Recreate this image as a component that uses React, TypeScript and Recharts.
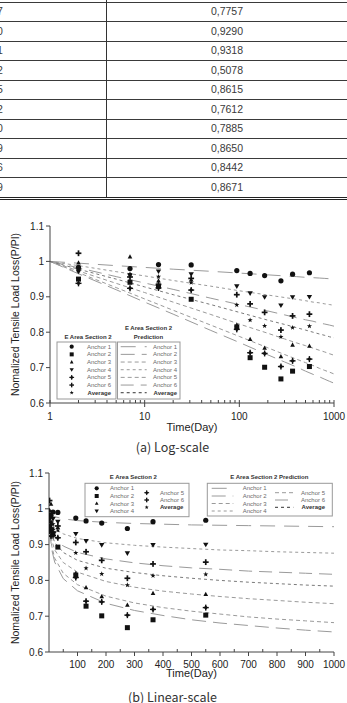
import React from 'react';
import { ComposedChart, Line, Scatter, XAxis, YAxis, Label } from 'recharts';

// ---------- table (upper part of the page) ----------
const tableLeftTail = ['7', '0', '1', '2', '5', '2', '0', '9', '6', '9'];
const tableValues = ['0,7757', '0,9290', '0,9318', '0,5078', '0,8615', '0,7612', '0,7885', '0,8650', '0,8442', '0,8671'];

// ---------- measured data ----------
const measuredDays = [2, 7, 14, 31, 94, 130, 185, 275, 365, 550];
const anchor1 = [0.983, 0.980, 0.991, 0.990, 0.974, 0.966, 0.960, 0.945, 0.964, 0.968];
const anchor2 = [0.950, 0.941, 0.930, 0.893, 0.815, 0.728, 0.701, 0.668, 0.690, 0.703];
const anchor3 = [0.996, 1.013, 0.945, 0.948, 0.820, 0.780, 0.755, 0.731, 0.764, 0.761];
const anchor4 = [0.971, 0.960, 0.972, 0.964, 0.930, 0.910, 0.899, 0.876, 0.899, 0.900];
const anchor5 = [0.938, 0.924, 0.925, 0.919, 0.808, 0.742, 0.740, 0.703, 0.719, 0.724];
const anchor6 = [1.023, 0.956, 0.935, 0.952, 0.906, 0.880, 0.856, 0.806, 0.846, 0.851];
const average = [0.975, 0.965, 0.957, 0.940, 0.877, 0.834, 0.818, 0.787, 0.813, 0.817];

const seriesNames = ['Anchor 1', 'Anchor 2', 'Anchor 3', 'Anchor 4', 'Anchor 5', 'Anchor 6', 'Average'];

// ---------- prediction curves ----------
const predictionDays = [1, 2, 5, 10, 20, 50, 100, 200, 300, 400, 500, 600, 700, 800, 900, 1000];
const predAnchor1 = [1.000, 0.995, 0.988, 0.983, 0.978, 0.972, 0.967, 0.962, 0.959, 0.957, 0.955, 0.954, 0.953, 0.952, 0.951, 0.950];
const predAnchor2 = [1.000, 0.965, 0.920, 0.885, 0.851, 0.805, 0.771, 0.736, 0.716, 0.702, 0.690, 0.681, 0.674, 0.667, 0.661, 0.656];
const predAnchor3 = [1.000, 0.973, 0.938, 0.912, 0.885, 0.850, 0.823, 0.797, 0.781, 0.770, 0.762, 0.755, 0.749, 0.744, 0.739, 0.735];
const predAnchor4 = [1.000, 0.988, 0.971, 0.959, 0.946, 0.930, 0.917, 0.905, 0.898, 0.893, 0.889, 0.885, 0.883, 0.880, 0.878, 0.876];
const predAnchor5 = [1.000, 0.968, 0.926, 0.894, 0.862, 0.820, 0.788, 0.756, 0.737, 0.724, 0.714, 0.706, 0.698, 0.692, 0.687, 0.682];
const predAnchor6 = [1.000, 0.982, 0.957, 0.939, 0.921, 0.896, 0.878, 0.860, 0.849, 0.841, 0.835, 0.831, 0.826, 0.823, 0.820, 0.817];
const predAverage = [1.000, 0.978, 0.950, 0.928, 0.906, 0.878, 0.856, 0.834, 0.822, 0.813, 0.806, 0.800, 0.795, 0.791, 0.787, 0.784];

// ---------- axes ----------
const yTicks = [0.6, 0.7, 0.8, 0.9, 1.0, 1.1];
const logTicks = [1, 2, 3, 4, 5, 6, 7, 8, 9, 10, 20, 30, 40, 50, 60, 70, 80, 90, 100, 200, 300, 400, 500, 600, 700, 800, 900, 1000];
const logMajor = [1, 10, 100, 1000];
const linTicks = [50, 100, 150, 200, 250, 300, 350, 400, 450, 500, 550, 600, 650, 700, 750, 800, 850, 900, 950, 1000];

const FONT = '"Liberation Sans", Arial, sans-serif';
const INK = '#222';
const AXIS = '#444';

type Kind = 'circle' | 'square' | 'tri' | 'invtri' | 'dplus' | 'plus' | 'star';
const markerKinds: Kind[] = ['circle', 'square', 'tri', 'invtri', 'dplus', 'plus', 'star'];
const measuredSeries = [anchor1, anchor2, anchor3, anchor4, anchor5, anchor6, average];
const predKeys = ['p1', 'p2', 'p3', 'p4', 'p5', 'p6', 'pa'];
const predSeries = [predAnchor1, predAnchor2, predAnchor3, predAnchor4, predAnchor5, predAnchor6, predAverage];
const predStyle = [
  { stroke: '#9a9a9a', dash: '15 9' },
  { stroke: '#9a9a9a', dash: '14 7' },
  { stroke: '#9a9a9a', dash: '4 3' },
  { stroke: '#9a9a9a', dash: '3 3' },
  { stroke: '#9a9a9a', dash: '4 3' },
  { stroke: '#9a9a9a', dash: '13 7' },
  { stroke: '#7a7a7a', dash: '3 3' },
];

const predRows = predictionDays.map((t, i) => {
  const r: any = { t };
  predKeys.forEach((k, j) => (r[k] = predSeries[j][i]));
  return r;
});
const measuredRows = measuredSeries.map((s) => s.map((v, i) => ({ t: measuredDays[i], v })));

function starPoints(cx: number, cy: number, R: number, r: number) {
  const pts: string[] = [];
  for (let k = 0; k < 10; k++) {
    const a = ((-90 + k * 36) * Math.PI) / 180;
    const rad = k % 2 === 0 ? R : r;
    pts.push(`${cx + rad * Math.cos(a)},${cy + rad * Math.sin(a)}`);
  }
  return pts.join(' ');
}

function Marker({ kind, cx, cy, s = 1 }: { kind: Kind; cx: number; cy: number; s?: number }) {
  const f = '#111';
  switch (kind) {
    case 'circle':
      return <circle cx={cx} cy={cy} r={2.6 * s} fill={f} />;
    case 'square':
      return <rect x={cx - 2.5 * s} y={cy - 2.5 * s} width={5 * s} height={5 * s} fill={f} />;
    case 'tri':
      return <polygon points={`${cx},${cy - 2.6 * s} ${cx - 2.3 * s},${cy + 1.7 * s} ${cx + 2.3 * s},${cy + 1.7 * s}`} fill={f} />;
    case 'invtri':
      return <polygon points={`${cx - 2.7 * s},${cy - 1.9 * s} ${cx + 2.7 * s},${cy - 1.9 * s} ${cx},${cy + 2.7 * s}`} fill={f} />;
    case 'dplus':
      return (
        <g fill={f}>
          <polygon points={`${cx},${cy - 2.2 * s} ${cx + 2.2 * s},${cy} ${cx},${cy + 2.2 * s} ${cx - 2.2 * s},${cy}`} />
          <rect x={cx - 3 * s} y={cy - 0.7 * s} width={6 * s} height={1.4 * s} />
          <rect x={cx - 0.7 * s} y={cy - 3 * s} width={1.4 * s} height={6 * s} />
        </g>
      );
    case 'plus':
      return (
        <g fill={f}>
          <rect x={cx - 2.9 * s} y={cy - 0.85 * s} width={5.8 * s} height={1.7 * s} />
          <rect x={cx - 0.85 * s} y={cy - 2.9 * s} width={1.7 * s} height={5.8 * s} />
        </g>
      );
    default:
      return <polygon points={starPoints(cx, cy, 2.7 * s, 1.1 * s)} fill={f} />;
  }
}

const fmtY = (v: number) => (Math.abs(v - 1) < 1e-9 ? '1' : v.toFixed(1));

function LogTick(props: any) {
  const { x, y, payload } = props;
  const v = payload.value;
  const axisY = y - 6;
  const major = logMajor.includes(v);
  return (
    <g>
      {major ? (
        <line x1={x} x2={x} y1={axisY - 3} y2={axisY + 4} stroke={AXIS} />
      ) : (
        <line x1={x} x2={x} y1={axisY - 3} y2={axisY} stroke={AXIS} />
      )}
      {major && (
        <text x={x} y={axisY + 17} textAnchor="middle" fontSize={10} fill={INK} fontFamily={FONT}>
          {v}
        </text>
      )}
    </g>
  );
}

function LinTick(props: any) {
  const { x, y, payload } = props;
  const v = payload.value;
  const axisY = y - 6;
  const major = v % 100 === 0;
  return (
    <g>
      {major ? (
        <line x1={x} x2={x} y1={axisY} y2={axisY + 4} stroke={AXIS} />
      ) : (
        <line x1={x} x2={x} y1={axisY - 3} y2={axisY} stroke={AXIS} />
      )}
      {major && (
        <text x={x} y={axisY + 16} textAnchor="middle" fontSize={10} fill={INK} fontFamily={FONT}>
          {v}
        </text>
      )}
    </g>
  );
}

const makeYTitle = () => (props: any) => {
  const vb = props.viewBox || { x: 0, y: 0, width: 0, height: 0 };
  const cx = 15;
  const cy = vb.y + vb.height / 2;
  return (
    <text x={cx} y={cy} transform={`rotate(-90 ${cx} ${cy})`} textAnchor="middle" dominantBaseline="central" fontSize={10.5} fill={INK} fontFamily={FONT}>
      Nomalized Tensile Load Loss(P/PI)
    </text>
  );
};

const makeXTitle = (dy: number) => (props: any) => {
  const vb = props.viewBox || { x: 0, y: 0, width: 0, height: 0 };
  return (
    <text x={vb.x + vb.width / 2} y={vb.y + dy} textAnchor="middle" dominantBaseline="central" fontSize={11} fill={INK} fontFamily={FONT}>
      Time(Day)
    </text>
  );
};

function Series() {
  return null;
}

function renderSeries() {
  const out: any[] = [];
  predKeys.forEach((k, j) => {
    out.push(
      <Line
        key={k}
        dataKey={k}
        type="linear"
        stroke={predStyle[j].stroke}
        strokeDasharray={predStyle[j].dash}
        strokeWidth={1}
        dot={false}
        activeDot={false}
        isAnimationActive={false}
      />
    );
  });
  measuredRows.forEach((rows, j) => {
    out.push(
      <Scatter
        key={'m' + j}
        name={seriesNames[j]}
        data={rows}
        dataKey="v"
        isAnimationActive={false}
        shape={(p: any) => <Marker kind={markerKinds[j]} cx={p.cx} cy={p.cy} />}
      />
    );
  });
  return out;
}

function Table() {
  const lineYs = [1.5, 21, 40.5, 60, 79.5, 99, 118.5, 138, 157.5, 177];
  return (
    <div style={{ position: 'absolute', left: 0, top: 0, width: 347, height: 202 }}>
      {lineYs.map((y, i) => (
        <div key={i} style={{ position: 'absolute', left: 0, top: y, width: 347, height: 1, background: '#3a3a3a' }} />
      ))}
      <div style={{ position: 'absolute', left: 0, top: 196.5, width: 347, height: 1, background: '#222' }} />
      <div style={{ position: 'absolute', left: 0, top: 198.5, width: 347, height: 1.2, background: '#222' }} />
      <div style={{ position: 'absolute', left: 105.5, top: 0, width: 1, height: 197, background: '#333' }} />
      {tableValues.map((v, i) => (
        <div
          key={'v' + i}
          style={{
            position: 'absolute',
            left: 107,
            width: 240,
            top: 2 + 19.5 * i,
            height: 19.5,
            lineHeight: '19.5px',
            textAlign: 'center',
            fontFamily: FONT,
            fontSize: 10.5,
            color: '#3a3a3a',
          }}
        >
          {v}
        </div>
      ))}
      {tableLeftTail.map((d, i) => (
        <div
          key={'l' + i}
          style={{
            position: 'absolute',
            left: 0,
            width: 8,
            overflow: 'hidden',
            top: 2 + 19.5 * i,
            height: 19.5,
            lineHeight: '19.5px',
            fontFamily: FONT,
            fontSize: 10.5,
            color: '#3a3a3a',
          }}
        >
          <span style={{ position: 'relative', left: -3 }}>{d}</span>
        </div>
      ))}
    </div>
  );
}

function LegendText({ x, y, anchor, bold, children }: any) {
  return (
    <text
      x={x}
      y={y}
      textAnchor={anchor}
      dominantBaseline="central"
      fontSize={6}
      fontWeight={bold ? 'bold' : 'normal'}
      fill={bold ? '#333' : '#6a6a6a'}
      fontFamily={FONT}
    >
      {children}
    </text>
  );
}

function Legends() {
  const rowsA = seriesNames.map((_, k) => 346.7 + 7.67 * k);
  const col1B = [488.3, 496, 503.5, 511];
  const col2B = [492.7, 500, 507.3];
  return (
    <svg width={347} height={703} style={{ position: 'absolute', left: 0, top: 0, pointerEvents: 'none' }}>
      {/* chart (a) */}
      <text x={88} y={336.7} textAnchor="middle" dominantBaseline="central" fontSize={6} fontWeight="bold" fill="#333" fontFamily={FONT}>
        E Area Section 2
      </text>
      <rect x={57} y={342} width={59} height={57} fill="#fff" stroke="#999" strokeWidth={1} />
      <text x={148.5} y={328.3} textAnchor="middle" dominantBaseline="central" fontSize={6} fontWeight="bold" fill="#333" fontFamily={FONT}>
        E Area Section 2
      </text>
      <text x={148.5} y={336.7} textAnchor="middle" dominantBaseline="central" fontSize={6} fontWeight="bold" fill="#333" fontFamily={FONT}>
        Prediction
      </text>
      <rect x={117.5} y={342} width={62.5} height={57} fill="#fff" stroke="#999" strokeWidth={1} />
      {seriesNames.map((n, k) => (
        <g key={'la' + k}>
          <Marker kind={markerKinds[k]} cx={71.7} cy={rowsA[k]} s={0.8} />
          <LegendText x={111} y={rowsA[k]} anchor="end" bold={k === 6}>
            {n}
          </LegendText>
          <line x1={120.7} x2={146.7} y1={rowsA[k]} y2={rowsA[k]} stroke={k === 6 ? '#333' : predStyle[k].stroke} strokeDasharray={predStyle[k].dash} />
          <LegendText x={177} y={rowsA[k]} anchor="end" bold={k === 6}>
            {n}
          </LegendText>
        </g>
      ))}

      {/* chart (b) */}
      <text x={133.3} y={476.7} textAnchor="middle" dominantBaseline="central" fontSize={6} fontWeight="bold" fill="#333" fontFamily={FONT}>
        E Area Section 2
      </text>
      <rect x={85} y={483.3} width={104} height={33.4} fill="#fff" stroke="#999" strokeWidth={1} />
      <text x={269.3} y={476.7} textAnchor="middle" dominantBaseline="central" fontSize={6} fontWeight="bold" fill="#333" fontFamily={FONT}>
        E Area Section 2 Prediction
      </text>
      <rect x={207.3} y={483.3} width={125} height={32.7} fill="#fff" stroke="#999" strokeWidth={1} />
      {col1B.map((y, k) => (
        <g key={'lb1' + k}>
          <Marker kind={markerKinds[k]} cx={96.7} cy={y} s={0.8} />
          <LegendText x={110} y={y} anchor="start">
            {seriesNames[k]}
          </LegendText>
          <line x1={211.7} x2={233.3} y1={y} y2={y} stroke={predStyle[k].stroke} strokeDasharray={predStyle[k].dash} />
          <LegendText x={242.7} y={y} anchor="start">
            {seriesNames[k]}
          </LegendText>
        </g>
      ))}
      {col2B.map((y, i) => {
        const k = i + 4;
        return (
          <g key={'lb2' + k}>
            <Marker kind={markerKinds[k]} cx={146.7} cy={y} s={0.8} />
            <LegendText x={160} y={y} anchor="start" bold={k === 6}>
              {seriesNames[k]}
            </LegendText>
            <line x1={275} x2={293.3} y1={y} y2={y} stroke={k === 6 ? '#333' : predStyle[k].stroke} strokeDasharray={predStyle[k].dash} />
            <LegendText x={325} y={y} anchor="end" bold={k === 6}>
              {seriesNames[k]}
            </LegendText>
          </g>
        );
      })}
    </svg>
  );
}

const captionStyle: React.CSSProperties = {
  position: 'absolute',
  left: 0,
  width: 345,
  textAlign: 'center',
  fontFamily: '"Noto Sans CJK KR", "Noto Sans", sans-serif',
  fontSize: 12.5,
  color: '#333',
  height: 18,
  lineHeight: '18px',
};

export default function App() {
  return (
    <div style={{ position: 'absolute', left: 0, top: 0, width: 347, height: 703, overflow: 'hidden', background: '#fff' }}>
      <Table />
      <div style={{ position: 'absolute', left: 0, top: 200 }}>
        <ComposedChart width={347} height={240} data={predRows} margin={{ top: 26, right: 13, bottom: 7, left: 0 }}>
          <XAxis
            dataKey="t"
            type="number"
            scale="log"
            domain={[1, 1000]}
            ticks={logTicks}
            interval={0}
            allowDataOverflow
            height={30}
            tickSize={4}
            tickMargin={2}
            tickLine={false}
            stroke={AXIS}
            tick={<LogTick />}
          >
            <Label content={makeXTitle(24.3)} />
          </XAxis>
          <YAxis
            type="number"
            domain={[0.6, 1.1]}
            ticks={yTicks}
            interval={0}
            allowDataOverflow
            width={50}
            tickSize={4}
            stroke={AXIS}
            tickFormatter={fmtY}
            tick={{ fontSize: 10, fill: INK, fontFamily: FONT }}
          >
            <Label content={makeYTitle()} />
          </YAxis>
          {renderSeries()}
        </ComposedChart>
      </div>
      <div style={{ ...captionStyle, top: 438 }}>(a) Log-scale</div>

      <div style={{ position: 'absolute', left: 0, top: 460 }}>
        <ComposedChart width={347} height={225} data={predRows} margin={{ top: 13, right: 13, bottom: 3, left: 0 }}>
          <XAxis
            dataKey="t"
            type="number"
            domain={[0, 1000]}
            ticks={linTicks}
            interval={0}
            allowDataOverflow
            height={30}
            tickSize={4}
            tickMargin={2}
            tickLine={false}
            stroke={AXIS}
            tick={<LinTick />}
          >
            <Label content={makeXTitle(20.7)} />
          </XAxis>
          <YAxis
            type="number"
            domain={[0.6, 1.1]}
            ticks={yTicks}
            interval={0}
            allowDataOverflow
            width={49}
            tickSize={4}
            stroke={AXIS}
            tickFormatter={fmtY}
            tick={{ fontSize: 10, fill: INK, fontFamily: FONT }}
          >
            <Label content={makeYTitle()} />
          </YAxis>
          {renderSeries()}
        </ComposedChart>
      </div>
      <div style={{ ...captionStyle, top: 688 }}>(b) Linear-scale</div>
      <Legends />
    </div>
  );
}
